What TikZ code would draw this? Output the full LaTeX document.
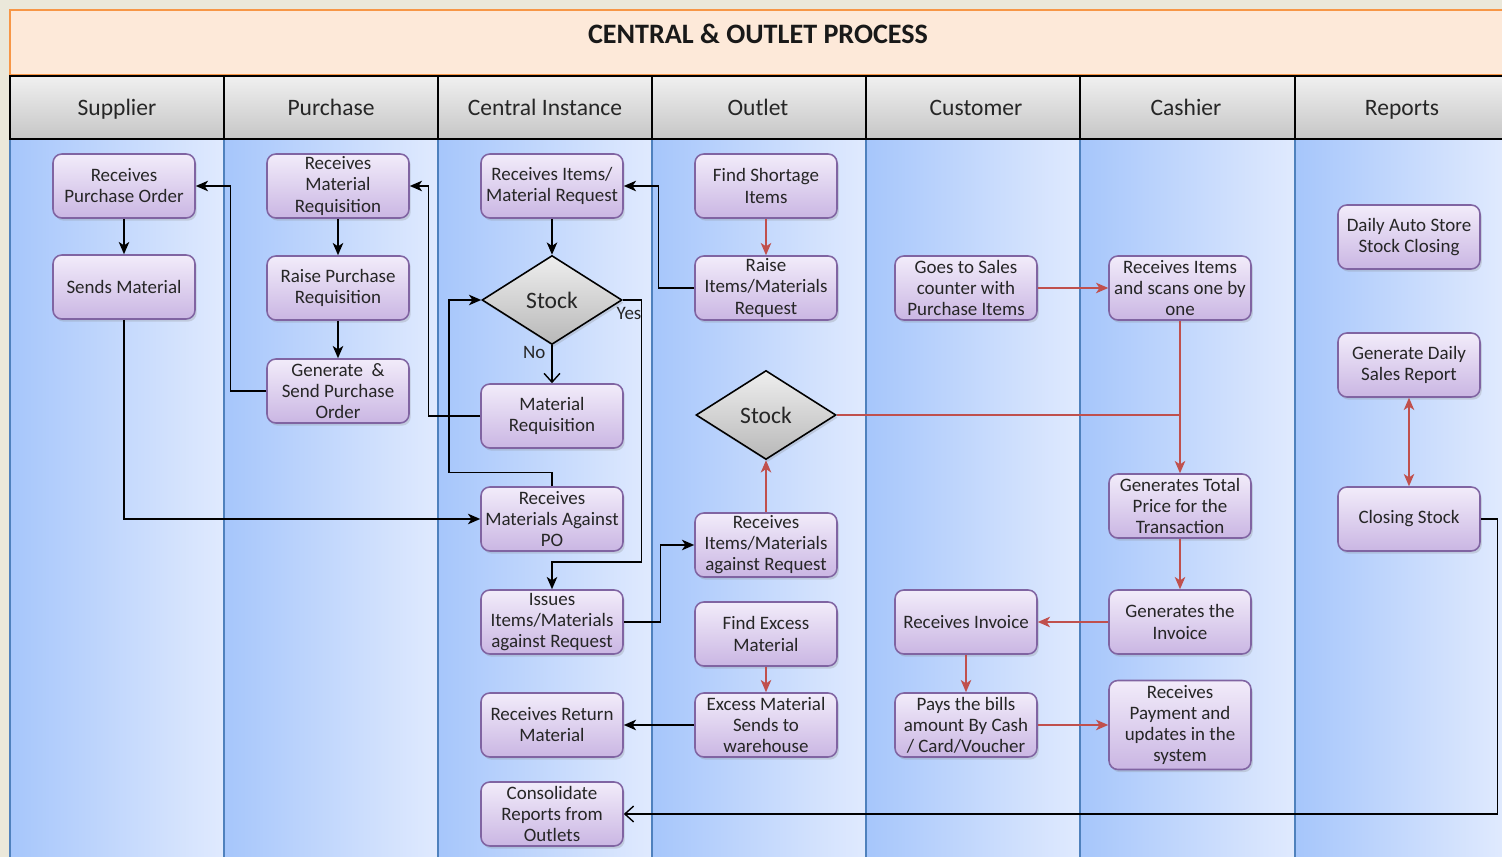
\documentclass[tikz,border=0pt]{standalone}
\usepackage{fontspec}
\setmainfont{Carlito}
\usetikzlibrary{shapes.geometric,shadows,arrows.meta}

\definecolor{pagebg}{HTML}{EBE8DA}
\definecolor{titlefill}{HTML}{FDE9D9}
\definecolor{titleline}{HTML}{F79646}
\definecolor{headtop}{HTML}{F0F0F0}
\definecolor{headbottom}{HTML}{C6C6C6}
\definecolor{laneleft}{HTML}{A6C6FB}
\definecolor{laneright}{HTML}{E0EAFE}
\definecolor{laneline}{HTML}{4F81BD}
\definecolor{boxtop}{HTML}{F2ECFA}
\definecolor{boxbottom}{HTML}{CAB6E3}
\definecolor{boxline}{HTML}{8064A2}
\definecolor{stocktop}{HTML}{EEEEEE}
\definecolor{stockbottom}{HTML}{B8B8B8}
\definecolor{redline}{HTML}{C0504D}

\newcommand{\flowfont}{\fontsize{10.8}{12}\selectfont}
\newcommand{\headfont}{\fontsize{13.4}{16}\selectfont}

\begin{document}
\begin{tikzpicture}[
        x=0.02cm, y=-0.02cm,
        box/.style={rectangle, rounded corners=5pt, draw=boxline, line width=0.9pt,
            top color=boxtop, bottom color=boxbottom, text=black!85,
            minimum width=2.84cm, minimum height=1.28cm, inner sep=1pt, align=center,
            font=\flowfont, drop shadow={opacity=0.25, shadow xshift=1pt, shadow yshift=-1.5pt}},
        stock/.style={diamond, draw, line width=0.9pt, top color=stocktop, bottom color=stockbottom,
            minimum width=2.8cm, minimum height=1.78cm, inner sep=0pt, font=\headfont, text=black!85,
            drop shadow={opacity=0.25, shadow xshift=1pt, shadow yshift=-1.5pt}},
        lanehead/.style={font=\headfont, text=black!85, text height=1.6ex, text depth=0.45ex},
        arrow/.style={-{Stealth[length=7pt, width=6pt, inset=2pt]}, thick},
        openarrow/.style={-{Straight Barb[length=5pt, width=9pt]}, thick},
        redarrow/.style={-{Stealth[length=7pt, width=6pt, inset=2pt]}, semithick, draw=redline, fill=redline},
        redwire/.style={semithick, draw=redline}
    ]
        \useasboundingbox (0,0) rectangle (1502,857);
        \fill[pagebg] (0,0) rectangle (1502,857);

        % title bar
        \draw[titleline, fill=titlefill, line width=1.2pt] (10,10) rectangle (1503,75);
        \node[font=\fontsize{16}{19}\selectfont\bfseries, text=black!90] (title) at (758,34) {CENTRAL \& OUTLET PROCESS};

        % lanes
        \foreach \xl/\xr in {10/224, 224/438, 438/652, 652/866, 866/1080, 1080/1295, 1295/1503}
            \shade[left color=laneleft, right color=laneright] (\xl,139) rectangle (\xr,857);
        \foreach \xb in {10, 224, 438, 652, 866, 1080, 1295}
            \draw[laneline, line width=1.2pt] (\xb,139) -- (\xb,857);

        % lane headers
        \shade[top color=headtop, bottom color=headbottom] (10,76) rectangle (1503,139);
        \draw[line width=1.3pt] (10,76) rectangle (1503,139);
        \foreach \xb in {224, 438, 652, 866, 1080, 1295}
            \draw[line width=1.3pt] (\xb,76) -- (\xb,139);
        \foreach \xc/\lbl/\id in {117/Supplier/hsup, 331/Purchase/hpur, 545/Central Instance/hcen,
                758/Outlet/hout, 976/Customer/hcus, 1186/Cashier/hcas, 1402/Reports/hrep}
            \node[lanehead] (\id) at (\xc,111) {\lbl};

        % supplier
        \node[box] (s1) at (124,186) {Receives\\Purchase Order};
        \node[box] (s2) at (124,287) {Sends Material};

        % purchase
        \node[box] (p1) at (338,186) {Receives\\Material\\Requisition};
        \node[box] (p2) at (338,288) {Raise Purchase\\Requisition};
        \node[box] (p3) at (338,391) {Generate~~\&\\Send Purchase\\Order};

        % central instance
        \node[box] (c1) at (552,186) {Receives Items/\\Material Request};
        \node[stock] (c2) at (552,300) {Stock};
        \node[box] (c3) at (552,416) {Material\\Requisition};
        \node[box] (c4) at (552,519) {Receives\\Materials Against\\PO};
        \node[box] (c5) at (552,622) {Issues\\Items/Materials\\against Request};
        \node[box] (c6) at (552,725) {Receives Return\\Material};
        \node[box] (c7) at (552,814) {Consolidate\\Reports from\\Outlets};

        % outlet
        \node[box] (o1) at (766,186) {Find Shortage\\Items};
        \node[box] (o2) at (766,288) {Raise\\Items/Materials\\Request};
        \node[stock] (o3) at (766,415) {Stock};
        \node[box] (o4) at (766,545) {Receives\\Items/Materials\\against Request};
        \node[box] (o5) at (766,634) {Find Excess\\Material};
        \node[box] (o6) at (766,725) {Excess Material\\Sends to\\warehouse};

        % customer
        \node[box] (u1) at (966,288) {Goes to Sales\\counter with\\Purchase Items};
        \node[box] (u2) at (966,622) {Receives Invoice};
        \node[box] (u3) at (966,725) {Pays the bills\\amount By Cash\\/ Card/Voucher};

        % cashier
        \node[box] (k1) at (1180,288) {Receives Items\\and scans one by\\one};
        \node[box] (k2) at (1180,506) {Generates Total\\Price for the\\Transaction};
        \node[box] (k3) at (1180,622) {Generates the\\Invoice};
        \node[box, minimum height=1.78cm] (k4) at (1180,725) {Receives\\Payment and\\updates in the\\system};

        % reports
        \node[box] (r1) at (1409,237) {Daily Auto Store\\Stock Closing};
        \node[box] (r2) at (1409,365) {Generate Daily\\Sales Report};
        \node[box] (r3) at (1409,519) {Closing Stock};

        % black connectors
        \draw[arrow] (s1) -- (s2);
        \draw[arrow] (p1) -- (p2);
        \draw[arrow] (p2) -- (p3);
        \draw[arrow] (p3.west) -- ++(-36,0) |- (s1.east);
        \draw[arrow] (c3.west) -- ++(-52,0) |- (p1.east);
        \draw[arrow] (c1) -- (c2);
        \draw[openarrow] (c2) -- node[pos=0.2, left, font=\flowfont, text=black!85] (no) {No} (c3);
        \draw[arrow] (c2.east) -- ++(19,0) -- ++(0,262) -| (c5.north);
        \node[font=\flowfont, text=black!85] (yes) at (629,313) {Yes};
        \draw[arrow] (c4.north) -- ++(0,-14) -- ++(-103,0) |- (c2.west);
        \draw[arrow] (s2.south) |- (c4.west);
        \draw[arrow] (o2.west) -- ++(-36,0) |- (c1.east);
        \draw[arrow] (c5.east) -- ++(37,0) |- (o4.west);
        \draw[arrow] (o6) -- (c6);
        \draw[openarrow] (r3.east) -- ++(17,0) |- (c7.east);

        % red connectors
        \draw[redarrow] (o1) -- (o2);
        \draw[redarrow] (o4) -- (o3);
        \draw[redarrow] (o5) -- (o6);
        \draw[redwire] (o3.east) -- (o3.east -| k1.south);
        \draw[redarrow] (u1) -- (k1);
        \draw[redarrow] (k1) -- (k2);
        \draw[redarrow] (k2) -- (k3);
        \draw[redarrow] (k3) -- (u2);
        \draw[redarrow] (u2) -- (u3);
        \draw[redarrow] (u3) -- (k4);
        \draw[redarrow, {Stealth[length=7pt, width=6pt, inset=2pt]}-{Stealth[length=7pt, width=6pt, inset=2pt]}] (r2) -- (r3);
    \end{tikzpicture}
\end{document}
